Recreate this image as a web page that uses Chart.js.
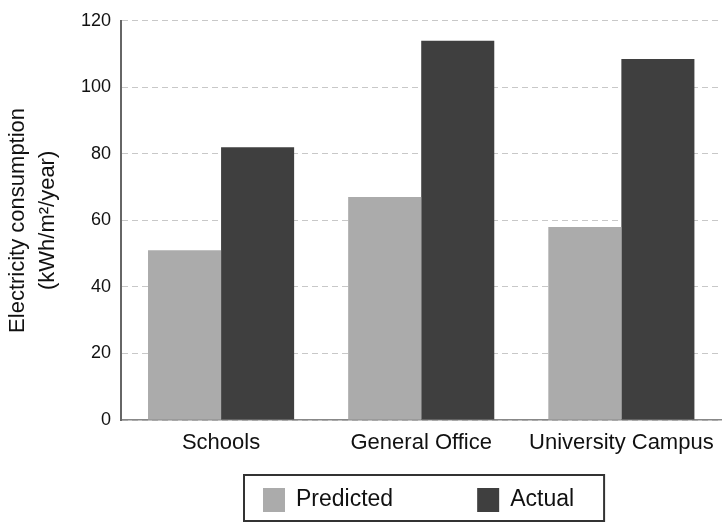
<!DOCTYPE html>
<html>
<head>
<meta charset="utf-8">
<script src="https://cdn.jsdelivr.net/npm/chart.js@4"></script>
<style>
  html, body { margin: 0; padding: 0; background: #fff; }
  #wrap { width: 724px; height: 524px; }
</style>
</head>
<body>
<div id="wrap"><canvas id="chart"></canvas></div>
<script>
// data
const categories = ['Schools', 'General Office', 'University Campus'];
const predicted = [51, 67, 58];
const actual = [82, 114, 108.5];
const yTicks = [0, 20, 40, 60, 80, 100, 120];

Chart.defaults.font.family = '"Liberation Sans", Arial, sans-serif';
Chart.defaults.color = '#111';

// legend in a framed box, like the original figure
const boxLegend = {
  id: 'boxLegend',
  afterDraw(chart) {
    const { ctx, chartArea } = chart;
    const sets = chart.data.datasets;
    ctx.save();
    ctx.font = '23px "Liberation Sans", Arial, sans-serif';
    ctx.textBaseline = 'middle';
    const padL = 19, padR = 30, sw = 22, sh = 24, gap = 11, between = 84;
    let w = padL + padR;
    sets.forEach((ds, i) => {
      w += sw + gap + ctx.measureText(ds.label).width;
      if (i < sets.length - 1) w += between;
    });
    const top = 475, h = 46;
    const left = Math.round((chartArea.left + chartArea.right) / 2 - w / 2 + 3);
    ctx.strokeStyle = '#333';
    ctx.lineWidth = 2;
    ctx.strokeRect(left, top, w, h);
    let x = left + padL;
    sets.forEach((ds) => {
      ctx.fillStyle = ds.backgroundColor;
      ctx.fillRect(x, top + 13, sw, sh);
      x += sw + gap;
      ctx.fillStyle = '#111';
      ctx.fillText(ds.label, x, top + 25);
      x += ctx.measureText(ds.label).width + between;
    });
    ctx.restore();
  }
};

new Chart(document.getElementById('chart'), {
  type: 'bar',
  data: {
    labels: categories,
    datasets: [
      { label: 'Predicted', data: predicted, backgroundColor: '#ababab' },
      { label: 'Actual', data: actual, backgroundColor: '#3f3f3f' }
    ]
  },
  options: {
    responsive: true,
    maintainAspectRatio: false,
    animation: false,
    devicePixelRatio: 1,
    layout: { padding: { top: 20, right: 2, left: 3, bottom: 60 } },
    categoryPercentage: 0.73,
    barPercentage: 1.0,
    plugins: {
      legend: { display: false },
      tooltip: { enabled: false }
    },
    scales: {
      x: {
        grid: { drawOnChartArea: false, drawTicks: false },
        border: { color: '#888', width: 1.5 },
        ticks: { padding: 10, color: '#111', font: { size: 22 } },
        afterFit: (scale) => { scale.height = 44; }
      },
      y: {
        min: 0,
        max: 120,
        afterBuildTicks: (scale) => { scale.ticks = yTicks.map(v => ({ value: v })); },
        grid: { color: '#c8c8c8', lineWidth: 1, drawTicks: false },
        // in v4 border.dash is what dashes the grid lines
        border: { color: '#666', width: 2, dash: [6, 4] },
        ticks: { padding: 10, color: '#111', font: { size: 18 } },
        title: {
          display: true,
          text: ['Electricity consumption', '(kWh/m\u00b2/year)'],
          color: '#111',
          font: { size: 22, lineHeight: 1.35 },
          padding: { top: 0, bottom: 0 }
        },
        afterFit: (scale) => { scale.width = 118; }
      }
    }
  },
  plugins: [boxLegend]
});
</script>
</body>
</html>
